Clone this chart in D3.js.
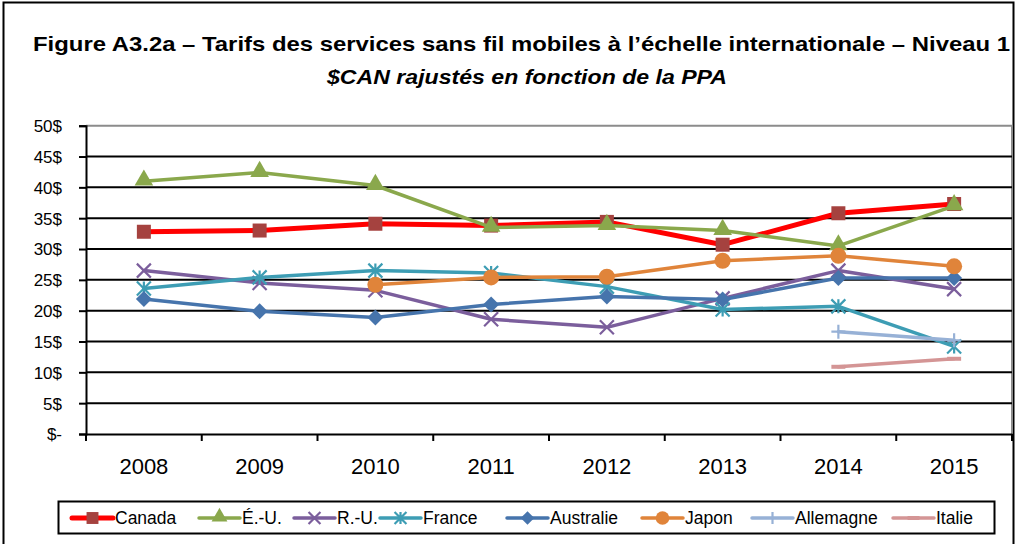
<!DOCTYPE html>
<meta charset="utf-8">
<style>
html, body { margin: 0; padding: 0; background: #fff; }
svg text { font-family: "Liberation Sans", Arial, sans-serif; fill: #000; }
</style>
<div id="chart"></div>
<script src="https://cdn.jsdelivr.net/npm/d3@7/dist/d3.min.js"></script>
<script>

// data
var years = ["2008", "2009", "2010", "2011", "2012", "2013", "2014", "2015"];
var yTicks = [0, 5, 10, 15, 20, 25, 30, 35, 40, 45, 50];

var canada    = [32.8, 33.0, 34.1, 33.8, 34.4, 30.7, 35.8, 37.3];
var eu        = [41.0, 42.4, 40.3, 33.5, 33.8, 33.0, 30.5, 37.0];
var ru        = [26.5, 24.5, 23.3, 18.6, 17.3, 22.0, 26.5, 23.5];
var france    = [23.6, 25.4, 26.5, 26.1, 23.9, 20.2, 20.7, 14.2];
var australie = [21.9, 19.9, 18.9, 21.0, 22.3, 21.8, 25.3, 25.3];
var japon     = [null, null, 24.2, 25.4, 25.5, 28.1, 28.9, 27.2];
var allemagne = [null, null, null, null, null, null, 16.6, 15.2];
var italie    = [null, null, null, null, null, null, 10.9, 12.2];

var series = [
  {name: "Canada",    values: canada,    color: "#ff0000", mcolor: "#a5423f", marker: "square",   w: 5},
  {name: "É.-U.",     values: eu,        color: "#8aa84c", mcolor: "#8aa84c", marker: "triangle", w: 3.5},
  {name: "R.-U.",     values: ru,        color: "#7b5e9c", mcolor: "#7b5e9c", marker: "x",        w: 3.5},
  {name: "France",    values: france,    color: "#3d9db4", mcolor: "#3d9db4", marker: "star",     w: 3.5},
  {name: "Australie", values: australie, color: "#4674ac", mcolor: "#4674ac", marker: "diamond",  w: 3.5},
  {name: "Japon",     values: japon,     color: "#e0843a", mcolor: "#e0843a", marker: "circle",   w: 3.5},
  {name: "Allemagne", values: allemagne, color: "#97b1d6", mcolor: "#97b1d6", marker: "plus",     w: 3.5},
  {name: "Italie",    values: italie,    color: "#d49595", mcolor: "#d49595", marker: "dash",     w: 3.5}
];

var W = 1017, H = 544;
var svg = d3.select("#chart").append("svg").attr("width", W).attr("height", H);

// outer frame
svg.append("rect").attr("x", 3.5).attr("y", 2.5).attr("width", 1010).attr("height", 560)
  .attr("fill", "none").attr("stroke", "#000").attr("stroke-width", 2);

svg.append("text").attr("x", 521.5).attr("y", 51).attr("text-anchor", "middle")
  .attr("textLength", 977).attr("lengthAdjust", "spacingAndGlyphs")
  .style("font-size", "20.5px").style("font-weight", "bold")
  .text("Figure A3.2a – Tarifs des services sans fil mobiles à l’échelle internationale – Niveau 1");
svg.append("text").attr("x", 527).attr("y", 84).attr("text-anchor", "middle")
  .attr("textLength", 400).attr("lengthAdjust", "spacingAndGlyphs")
  .style("font-size", "20.5px").style("font-weight", "bold").style("font-style", "italic")
  .text("$CAN rajustés en fonction de la PPA");

var x0 = 86, x1 = 1012, yTop = 125.7, yBot = 434;
var x = d3.scaleBand().domain(years).range([x0, x1]);
var y = d3.scaleLinear().domain([0, 50]).range([yBot, yTop]);

// plot area border (gray)
svg.append("path").attr("d", "M" + x0 + "," + yTop + "H" + x1 + "V" + yBot)
  .attr("fill", "none").attr("stroke", "#8c8c8c").attr("stroke-width", 2);

// gridlines
svg.append("g").selectAll("line").data(yTicks.filter(function(d) { return d > 0 && d < 50; }))
  .enter().append("line")
  .attr("x1", x0).attr("x2", x1)
  .attr("y1", function(d) { return y(d); }).attr("y2", function(d) { return y(d); })
  .attr("stroke", "#000").attr("stroke-width", 2);

// y axis
var yAxis = d3.axisLeft(y).tickValues(yTicks).tickSize(7).tickPadding(17)
  .tickFormat(function(d) { return d === 0 ? "$-" : d + "$"; });
var gy = svg.append("g").attr("transform", "translate(" + x0 + ",0)").call(yAxis);
gy.select(".domain").attr("stroke", "#000").attr("stroke-width", 2);
gy.selectAll(".tick line").attr("stroke", "#000").attr("stroke-width", 2);
gy.selectAll(".tick text").style("font-size", "17px").attr("dy", "0.35em");

// x axis
var xAxis = d3.axisBottom(x).tickSize(0).tickPadding(24);
var gx = svg.append("g").attr("transform", "translate(0," + yBot + ")").call(xAxis);
gx.select(".domain").attr("stroke", "#000").attr("stroke-width", 2);
gx.selectAll(".tick text").style("font-size", "22px").attr("dy", "0.72em");
svg.append("g").selectAll("line").data(years.concat(["end"])).enter().append("line")
  .attr("x1", function(d, i) { return x0 + i * x.step(); })
  .attr("x2", function(d, i) { return x0 + i * x.step(); })
  .attr("y1", yBot).attr("y2", yBot + 7)
  .attr("stroke", "#000").attr("stroke-width", 2);

function drawMarker(g, type, cx, cy, color, s) {
  s = s || 1;
  if (type === "square") {
    g.append("rect").attr("x", cx - 7 * s).attr("y", cy - 7 * s).attr("width", 14 * s).attr("height", 14 * s).attr("fill", color);
  } else if (type === "triangle") {
    g.append("path").attr("d", d3.symbol().type(d3.symbolTriangle).size(150 * s * s)()).attr("transform", "translate(" + cx + "," + (cy - 1) + ")").attr("fill", color);
  } else if (type === "diamond") {
    var r = 8 * s;
    g.append("path").attr("d", "M" + cx + "," + (cy - r) + "L" + (cx + r) + "," + cy + "L" + cx + "," + (cy + r) + "L" + (cx - r) + "," + cy + "Z").attr("fill", color);
  } else if (type === "circle") {
    g.append("circle").attr("cx", cx).attr("cy", cy).attr("r", 8 * s).attr("fill", color);
  } else if (type === "x") {
    var a = 7 * s;
    g.append("path").attr("d", "M" + (cx - a) + "," + (cy - a) + "L" + (cx + a) + "," + (cy + a) + "M" + (cx - a) + "," + (cy + a) + "L" + (cx + a) + "," + (cy - a))
      .attr("stroke", color).attr("stroke-width", 2.2);
  } else if (type === "star") {
    var b = 7 * s;
    g.append("path").attr("d", "M" + (cx - b) + "," + (cy - b) + "L" + (cx + b) + "," + (cy + b) + "M" + (cx - b) + "," + (cy + b) + "L" + (cx + b) + "," + (cy - b) + "M" + cx + "," + (cy - b) + "L" + cx + "," + (cy + b))
      .attr("stroke", color).attr("stroke-width", 2.2);
  } else if (type === "plus") {
    var c = 7 * s;
    g.append("path").attr("d", "M" + cx + "," + (cy - c) + "L" + cx + "," + (cy + c) + "M" + (cx - c) + "," + cy + "L" + (cx + c) + "," + cy)
      .attr("stroke", color).attr("stroke-width", 2.2);
  } else if (type === "dash") {
    g.append("path").attr("d", "M" + (cx - 7 * s) + "," + cy + "L" + (cx + 7 * s) + "," + cy)
      .attr("stroke", color).attr("stroke-width", 4);
  }
}

var line = d3.line()
  .defined(function(d) { return d != null; })
  .x(function(d, i) { return x(years[i]) + x.bandwidth() / 2; })
  .y(function(d) { return y(d); });

// draw in series order (first series below)
series.forEach(function(s) {
  var g = svg.append("g");
  g.append("path").datum(s.values).attr("d", line)
    .attr("fill", "none").attr("stroke", s.color).attr("stroke-width", s.w)
    .attr("stroke-linejoin", "round").attr("stroke-linecap", "round");
  s.values.forEach(function(v, i) {
    if (v == null) return;
    drawMarker(g, s.marker, x(years[i]) + x.bandwidth() / 2, y(v), s.mcolor);
  });
});

// legend
svg.append("rect").attr("x", 58.5).attr("y", 501.5).attr("width", 936).attr("height", 32)
  .attr("fill", "#fff").attr("stroke", "#000").attr("stroke-width", 2);
var legX = [72, 199, 294, 380, 507, 642, 752, 893];
series.forEach(function(s, i) {
  var g = svg.append("g");
  var lx = legX[i], ly = 518;
  g.append("line").attr("x1", lx).attr("x2", lx + 41).attr("y1", ly).attr("y2", ly)
    .attr("stroke", s.color).attr("stroke-width", s.w).attr("stroke-linecap", "round");
  drawMarker(g, s.marker, lx + 20.5, ly, s.mcolor, 0.85);
  g.append("text").attr("x", lx + 43).attr("y", ly).attr("dy", "0.35em")
    .style("font-size", "17.5px").text(s.name);
});

</script>
